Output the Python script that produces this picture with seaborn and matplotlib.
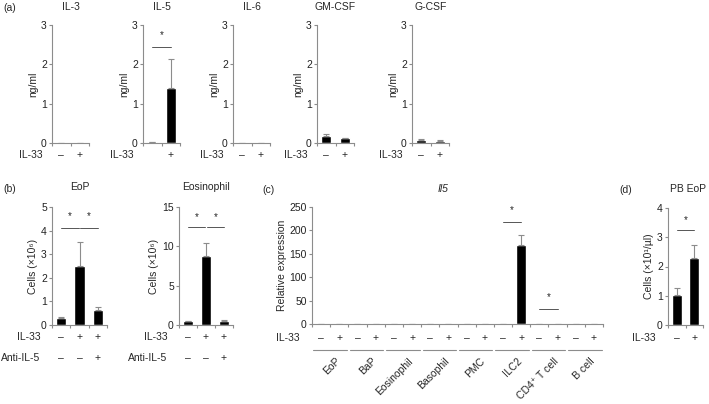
import numpy as np
import pandas as pd
import seaborn as sns
import matplotlib.pyplot as plt
from matplotlib import transforms

# ---- data ----
a_titles = ["IL-3", "IL-5", "IL-6", "GM-CSF", "G-CSF"]
a_mean = [[0.01, 0.01], [0.02, 1.40], [0.01, 0.01], [0.17, 0.13], [0.08, 0.05]]
a_err = [[0.0, 0.0], [0.0, 0.74], [0.0, 0.0], [0.05, 0.0], [0.02, 0.03]]
a_il33 = [["–", "+"], ["", "+"], ["–", "+"], ["–", "+"], ["–", "+"]]

b_titles = ["EoP", "Eosinophil"]
b_mean = [[0.28, 2.5, 0.62], [0.45, 8.8, 0.45]]
b_err = [[0.05, 1.0, 0.15], [0.1, 1.6, 0.15]]
b_il33 = ["–", "+", "+"]
b_anti = ["–", "–", "+"]

c_groups = ["EoP", "BaP", "Eosinophil", "Basophil", "PMC", "ILC2", "CD4⁺ T cell", "B cell"]
c_mean = [0, 0, 0, 0, 0, 0, 0, 1.0, 0, 0, 0, 168, 0, 1.0, 0, 0]
c_err = [0, 0, 0, 0, 0, 0, 0, 0, 0, 0, 0, 22, 0, 0, 0, 0]

d_mean = [1.02, 2.3]
d_err = [0.25, 0.45]

W, H = 709, 404
GRAY = "#8c8c8c"
FS = 7.5

sns.set_style("ticks")
plt.rcParams["font.family"] = ["Liberation Sans", "DejaVu Sans"]
plt.rcParams["font.size"] = FS
plt.rcParams["axes.edgecolor"] = GRAY
plt.rcParams["axes.linewidth"] = 0.8
plt.rcParams["xtick.color"] = GRAY
plt.rcParams["ytick.color"] = GRAY
plt.rcParams["xtick.labelcolor"] = "#222222"
plt.rcParams["ytick.labelcolor"] = "#222222"
plt.rcParams["xtick.major.size"] = 2.2
plt.rcParams["ytick.major.size"] = 2.2
plt.rcParams["xtick.major.width"] = 0.8
plt.rcParams["ytick.major.width"] = 0.8
plt.rcParams["ytick.labelsize"] = FS
plt.rcParams["axes.labelsize"] = FS

fig = plt.figure(figsize=(W / 100, H / 100), dpi=100)


def ax_at(l, t, r, b):
    return fig.add_axes([l / W, 1 - b / H, (r - l) / W, (b - t) / H])


def bars(ax, mean, err, ymax, yticks, ylabel):
    n = len(mean)
    df = pd.DataFrame({"pos": range(n), "val": mean})
    sns.barplot(data=df, x="pos", y="val", color="black", width=0.55,
                errorbar=None, ax=ax, saturation=1)
    ax.errorbar(range(n), mean, yerr=[np.zeros(n), err], fmt="none",
                ecolor=GRAY, elinewidth=0.8, capsize=2.2, capthick=0.8, zorder=1)
    ax.set_xlim(-0.5, n - 0.5)
    ax.set_ylim(0, ymax)
    ax.set_xticks(np.arange(-0.5, n, 1.0))
    ax.set_xticklabels([])
    ax.set_yticks(yticks)
    ax.set_xlabel("")
    ax.set_ylabel(ylabel, labelpad=2)
    sns.despine(ax=ax)
    ax.tick_params(axis="y", pad=1.5)


def row(ax, ypix, label, marks, lx):
    tr = transforms.blended_transform_factory(ax.transData, fig.transFigure)
    fig.text(lx / W, 1 - ypix / H, label, ha="right", va="center", fontsize=FS)
    for i, m in enumerate(marks):
        ax.text(i, 1 - ypix / H, m, transform=tr, ha="center", va="center",
                fontsize=FS, clip_on=False)


def sig(ax, x0, x1, y, ystar):
    ax.plot([x0, x1], [y, y], color="#555555", lw=0.7, clip_on=False)
    ax.text((x0 + x1) / 2, ystar, "*", ha="center", va="center", fontsize=7)


# ---- panel (a) ----
a_left = [52, 143, 233, 317, 412]
for k, l in enumerate(a_left):
    ax = ax_at(l, 25, l + 37, 143)
    bars(ax, a_mean[k], a_err[k], 3, [0, 1, 2, 3], "ng/ml")
    ax.set_title(a_titles[k], fontsize=FS, pad=11)
    row(ax, 155, "IL-33", a_il33[k], l - 9)
    if a_titles[k] == "IL-5":
        sig(ax, 0, 1, 2.45, 2.75)
fig.text(3 / W, 1 - 8 / H, "(a)", fontsize=FS, va="center")

# ---- panel (b) ----
b_pos = [(52, 107, 5, [0, 1, 2, 3, 4, 5], 4.1, 4.6),
         (179, 233, 15, [0, 5, 10, 15], 12.4, 13.7)]
for k, (l, r, ymax, yt, ys, yst) in enumerate(b_pos):
    ax = ax_at(l, 207, r, 325)
    bars(ax, b_mean[k], b_err[k], ymax, yt, "Cells (×10⁶)")
    ax.set_title(b_titles[k], fontsize=FS, pad=12)
    row(ax, 337, "IL-33", b_il33, l - 11)
    row(ax, 358, "Anti-IL-5", b_anti, l - 12)
    sig(ax, 0, 0.95, ys, yst)
    sig(ax, 1.05, 2, ys, yst)
fig.text(3 / W, 1 - 189 / H, "(b)", fontsize=FS, va="center")

# ---- panel (c) ----
ax = ax_at(312, 207, 603, 324)
bars(ax, c_mean, c_err, 250, [0, 50, 100, 150, 200, 250], "Relative expression")
row(ax, 338, "IL-33", ["–", "+"] * len(c_groups), 300)
tr = transforms.blended_transform_factory(ax.transData, fig.transFigure)
for g, name in enumerate(c_groups):
    ax.plot([2 * g - 0.42, 2 * g + 1.42], [1 - 350 / H] * 2, color=GRAY, lw=0.8,
            transform=tr, clip_on=False)
    ax.text(2 * g + 0.75, 1 - 356 / H, name, transform=tr, rotation=45,
            rotation_mode="anchor", ha="right", va="top", fontsize=FS)
sig(ax, 10, 11, 218, 243)
sig(ax, 12, 13, 33, 57)
fig.text(443 / W, 1 - 189 / H, "Il5", fontsize=FS, style="italic", ha="center", va="center")
fig.text(262 / W, 1 - 190 / H, "(c)", fontsize=FS, va="center")

# ---- panel (d) ----
ax = ax_at(668, 208, 703, 325)
bars(ax, d_mean, d_err, 4, [0, 1, 2, 3, 4], "Cells (×10¹/µl)")
row(ax, 338, "IL-33", ["–", "+"], 656)
sig(ax, 0, 1, 3.25, 3.6)
fig.text(706 / W, 1 - 189 / H, "PB EoP", fontsize=FS, ha="right", va="center")
fig.text(619 / W, 1 - 190 / H, "(d)", fontsize=FS, va="center")

fig.savefig("out.png", dpi=100)
